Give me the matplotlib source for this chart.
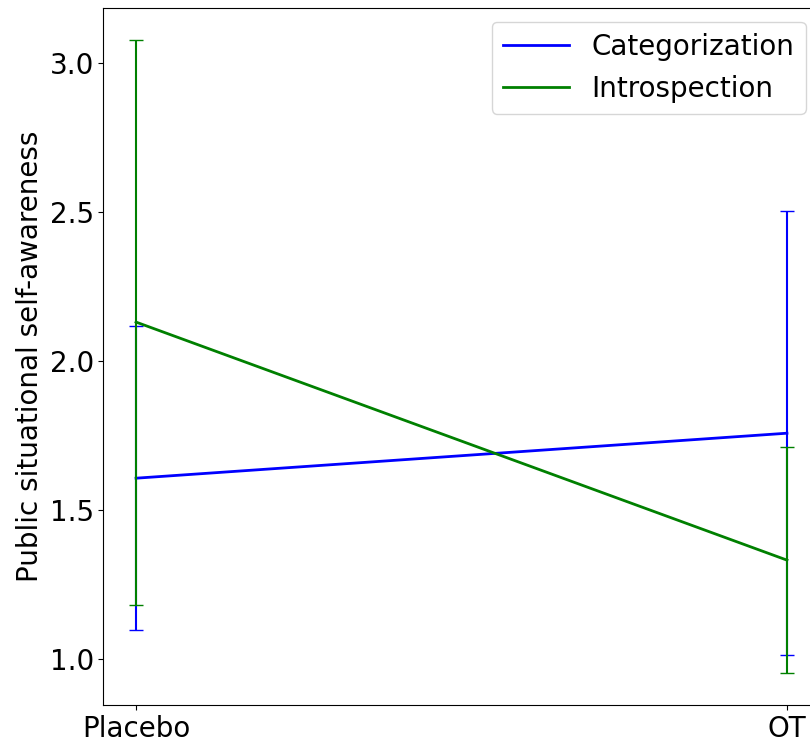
import matplotlib
matplotlib.use("Agg")
from matplotlib import pyplot as plt

conditions = ["Placebo", "OT"]
categorization_mean = [1.607, 1.758]
categorization_err = [0.510, 0.745]
introspection_mean = [2.131, 1.332]
introspection_err = [0.948, 0.380]

fig = plt.figure(figsize=(8.1, 7.42), dpi=100)
# axes run past the right edge, like the cropped original
ax = fig.add_axes([103.5 / 810, 37 / 742, 716 / 810, 697 / 742])

x = list(range(len(conditions)))
ax.plot(x, categorization_mean, color="b", lw=2, label="Categorization")
ax.errorbar(x, categorization_mean, yerr=categorization_err, fmt="none",
            ecolor="b", elinewidth=1.5, capsize=5, capthick=1)
ax.plot(x, introspection_mean, color="g", lw=2, label="Introspection")
ax.errorbar(x, introspection_mean, yerr=introspection_err, fmt="none",
            ecolor="g", elinewidth=1.5, capsize=5, capthick=1)

ax.set_xticks(x)
ax.set_xticklabels(conditions)
ax.tick_params(labelsize=20)
ax.set_ylabel("Public situational self-awareness", fontsize=20)
ax.legend(loc="upper right", fontsize=20, handlelength=2.4)

fig.savefig("out.png", dpi=100)
